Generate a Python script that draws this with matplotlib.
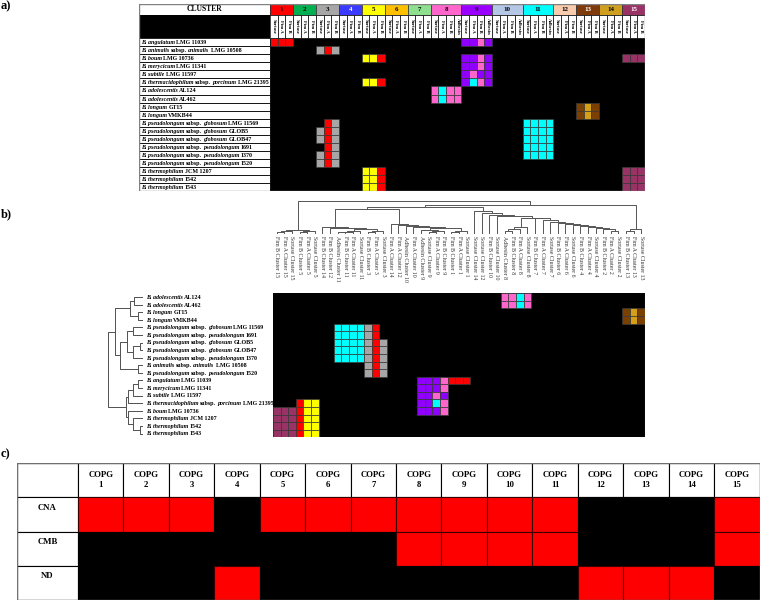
import matplotlib
matplotlib.use("Agg")
import matplotlib.pyplot as plt
from matplotlib.patches import Rectangle
from matplotlib.transforms import blended_transform_factory

plt.rcParams['font.family'] = ['Liberation Serif', 'DejaVu Serif']

W, H = 760, 601

# ---------------- data ----------------
cluster_sizes = [3, 3, 3, 3, 3, 3, 3, 4, 4, 4, 4, 3, 3, 3, 3]
gene_names = ['Sortase', 'Fim A', 'Fim B', 'Adhesin']
cluster_colors = ['#FF0000', '#00B050', '#A6A6A6', '#3B3BFF', '#FFFF00',
                  '#FFC000', '#8EE08E', '#FF66CC', '#9900FF', '#B4C7E7',
                  '#00FFFF', '#F8CBAD', '#7F3A0C', '#CFA020', '#993366']
cluster_text = ['k', 'k', 'k', 'w', 'k', 'k', 'k', 'k', 'k', 'k',
                'k', 'k', 'w', 'k', 'w']

cell_colors = {'R': '#FF0000', 'G': '#A6A6A6', 'Y': '#FFFF00', 'P': '#8F00FF',
               'K': '#FF66CC', 'C': '#00FFFF', 'B': '#7B3F00', 'O': '#D4A017',
               'M': '#993366'}

strains = [
    "*B. angulatum* LMG 11039",
    "*B. animalis* subsp. *animalis* LMG 10508",
    "*B. boum* LMG 10736",
    "*B. merycicum* LMG 11341",
    "*B. subtile* LMG 11597",
    "*B. thermacidophilum* subsp. *porcinum* LMG 21395",
    "*B. adolescentis* AL124",
    "*B. adolescentis* AL462",
    "*B. longum* GT15",
    "*B. longum* VMKB44",
    "*B. pseudolongum* subsp. *globosum* LMG 11569",
    "*B. pseudolongum* subsp. *globosum* GLOB5",
    "*B. pseudolongum* subsp. *globosum* GLOB47",
    "*B. pseudolongum* subsp. *pseudolongum* 1691",
    "*B. pseudolongum* subsp. *pseudolongum* 1370",
    "*B. pseudolongum* subsp. *pseudolongum* 1520",
    "*B. thermophilum* JCM 1207",
    "*B. thermophilum* 1542",
    "*B. thermophilum* 1543",
]

# one string per strain, clusters 1..15 separated by '|'
presence = [
    "RRR|...|...|...|...|...|...|....|PPKP|....|....|...|...|...|...",
    "...|...|GRG|...|...|...|...|....|....|....|....|...|...|...|...",
    "...|...|...|...|YYR|...|...|....|PPKP|....|....|...|...|...|MMM",
    "...|...|...|...|...|...|...|....|PPKP|....|....|...|...|...|...",
    "...|...|...|...|...|...|...|....|PKPP|....|....|...|...|...|...",
    "...|...|...|...|YYR|...|...|....|PCKP|....|....|...|...|...|...",
    "...|...|...|...|...|...|...|KCKK|....|....|....|...|...|...|...",
    "...|...|...|...|...|...|...|KCKK|....|....|....|...|...|...|...",
    "...|...|...|...|...|...|...|....|....|....|....|...|BOB|...|...",
    "...|...|...|...|...|...|...|....|....|....|....|...|BOB|...|...",
    "...|...|.RG|...|...|...|...|....|....|....|CCCC|...|...|...|...",
    "...|...|GRG|...|...|...|...|....|....|....|CCCC|...|...|...|...",
    "...|...|GRG|...|...|...|...|....|....|....|CCCC|...|...|...|...",
    "...|...|.RG|...|...|...|...|....|....|....|CCCC|...|...|...|...",
    "...|...|GRG|...|...|...|...|....|....|....|CCCC|...|...|...|...",
    "...|...|GRG|...|...|...|...|....|....|....|....|...|...|...|...",
    "...|...|...|...|YYR|...|...|....|....|....|....|...|...|...|MMM",
    "...|...|...|...|YYR|...|...|....|....|....|....|...|...|...|MMM",
    "...|...|...|...|YYR|...|...|....|....|....|....|...|...|...|MMM",
]

# panel b: clustered order of strains (index into strains) and of genes
b_row_order = [6, 7, 8, 9, 10, 13, 11, 12, 14, 1, 15, 0, 3, 4, 5, 2, 16, 17, 18]
b_col_labels = [
    "Fim B Cluster 15", "Fim A Cluster 15", "Sortase Cluster 15",
    "Fim B Cluster 5", "Fim A Cluster 5", "Sortase Cluster 5",
    "Fim B Cluster 14", "Fim B Cluster 12", "Adhesin Cluster 11",
    "Fim B Cluster 11", "Fim A Cluster 11", "Sortase Cluster 11",
    "Fim B Cluster 3", "Fim A Cluster 3", "Sortase Cluster 3",
    "Fim A Cluster 14", "Fim A Cluster 12", "Adhesin Cluster 10",
    "Fim A Cluster 10", "Adhesin Cluster 9", "Sortase Cluster 9",
    "Fim A Cluster 9", "Fim B Cluster 9", "Fim B Cluster 1",
    "Fim A Cluster 1", "Sortase Cluster 1", "Sortase Cluster 14",
    "Sortase Cluster 12", "Fim B Cluster 10", "Sortase Cluster 10",
    "Adhesin Cluster 8", "Fim B Cluster 8", "Fim A Cluster 8",
    "Sortase Cluster 8", "Fim B Cluster 7", "Fim A Cluster 7",
    "Sortase Cluster 7", "Fim B Cluster 6", "Fim A Cluster 6",
    "Sortase Cluster 6", "Fim B Cluster 4", "Fim A Cluster 4",
    "Sortase Cluster 4", "Fim B Cluster 2", "Fim A Cluster 2",
    "Sortase Cluster 2", "Fim B Cluster 13", "Fim A Cluster 13",
    "Sortase Cluster 13",
]

# row dendrogram (leaves = rows of panel b), (left, right, height)
row_tree = ((((0, 1, 9), (2, 3, 5), 13),
             (((4, 5, 10), ((6, 7, 3), 8, 10), 16), (9, 10, 5), 23), 28),
            ((((11, 12, 5), 13, 10), 14, 15),
             (15, (16, (17, 18, 3), 10), 15), 17), 35)

# column dendrogram pieces (leaves = columns of panel b)
grp_a = (((0, 1, 1.5), 2, 2.5), ((3, 4, 1.5), 5, 2.5), 3.5)
grp_11 = (((8, 9, 1), 10, 1.8), 11, 2.6)
grp_3 = ((12, 13, 1.5), 14, 2.5)
grp_9 = (19, ((20, 21, 1.5), 22, 2.5), 3.5)
grp_1 = ((23, 24, 1.5), 25, 2.5)
grp_8 = (((30, 31, 2), 32, 4), 33, 6)
grp_13 = ((46, 47, 2), 48, 4)
ladder_first = (44, 45, 2.5)
ladder_steps = [(43, 4), (42, 5), (41, 6), (40, 7), (39, 8), (38, 9), (37, 10),
                (36, 11.5), (35, 13), (34, 15), (grp_8, 15.5), (29, 17),
                (28, 18), (27, 20), (26, 22)]

copg_labels = [f"COPG\n{i}" for i in range(1, 16)]
copg_rows = ['CNA', 'CMB', 'ND']
copg_cna = [1, 1, 1, 0, 1, 1, 1, 1, 1, 1, 1, 0, 0, 0, 1]
copg_cmb = [0, 0, 0, 0, 0, 0, 0, 1, 1, 1, 1, 0, 0, 0, 1]
copg_nd = [0, 0, 0, 1, 0, 0, 0, 0, 0, 0, 0, 1, 1, 1, 0]

# ---------------- helpers ----------------
fig = plt.figure(figsize=(W / 100, H / 100), dpi=100)


def px_axes(x0, y0, x1, y1):
    ax = fig.add_axes([x0 / W, 1 - y1 / H, (x1 - x0) / W, (y1 - y0) / H])
    ax.axis('off')
    return ax


def rich_text(ax, x, y, s, fs, transform=None):
    parts = s.split('*')
    t = None
    for k, p in enumerate(parts):
        p = p.strip()
        if not p:
            continue
        style = 'italic' if k % 2 == 1 else 'normal'
        if t is None:
            t = ax.text(x, y, p, fontsize=fs, fontstyle=style, fontweight='bold',
                        va='center', ha='left', clip_on=False,
                        transform=transform if transform else ax.transData)
        else:
            t = ax.annotate(p, xy=(1, 0), xycoords=t, xytext=(1.0, 0),
                            textcoords='offset points', fontsize=fs,
                            fontstyle=style, fontweight='bold',
                            va='bottom', ha='left', annotation_clip=False)


def draw_cells(ax, rows):
    for i, row in enumerate(rows):
        for j, c in enumerate(row):
            if c != '.':
                ax.add_patch(Rectangle((j, i), 1, 1, facecolor=cell_colors[c],
                                       edgecolor='#3a3a3a', lw=0.5))


def tree_lines(node, segs):
    if not isinstance(node, tuple):
        return node + 0.5, 0.0
    a, b, h = node
    xa, ha = tree_lines(a, segs)
    xb, hb = tree_lines(b, segs)
    segs.append(([xa, xa, xb, xb], [ha, h, h, hb]))
    return (xa + xb) / 2, h


# column index of each (gene, cluster) in panel a
col_index = {}
start = 0
for ci, n in enumerate(cluster_sizes):
    for g in range(n):
        col_index[(gene_names[g], ci + 1)] = start + g
    start += n
n_cols = start
rows_a = [r.replace('|', '') for r in presence]

# ---------------- panel a ----------------
ax_a = px_axes(139, 4, 645, 191.5)
name_w = 131 / (375 / n_cols)
h1, h2 = 1.36, 2.85
ax_a.set_xlim(-name_w, n_cols)
ax_a.set_ylim(len(strains), -(h1 + h2))

ax_a.add_patch(Rectangle((0, 0), n_cols, len(strains), facecolor='black', lw=0))
draw_cells(ax_a, rows_a)

ax_a.add_patch(Rectangle((-name_w, -(h1 + h2)), name_w, h1, facecolor='white',
                         edgecolor='black', lw=0.6))
ax_a.text(-name_w / 2, -(h2 + h1 / 2), 'CLUSTER', ha='center', va='center',
          fontsize=5.5, fontweight='bold')
ax_a.add_patch(Rectangle((-name_w, -h2), name_w, h2, facecolor='black', lw=0))
for i, s in enumerate(strains):
    ax_a.add_patch(Rectangle((-name_w, i), name_w, 1, facecolor='white',
                             edgecolor='black', lw=0.6))
    rich_text(ax_a, -name_w + 0.25, i + 0.55, s, 4.3)

start = 0
for ci, n in enumerate(cluster_sizes):
    ax_a.add_patch(Rectangle((start, -(h1 + h2)), n, h1, facecolor=cluster_colors[ci],
                             edgecolor='#303030', lw=0.5))
    ax_a.text(start + n / 2, -(h2 + h1 / 2), str(ci + 1), ha='center', va='center',
              fontsize=5, fontweight='bold', color=cluster_text[ci])
    for g in range(n):
        ax_a.add_patch(Rectangle((start + g, -h2), 1, h2, facecolor='white',
                                 edgecolor='black', lw=0.5))
        ax_a.text(start + g + 0.5, -h2 / 2, gene_names[g], rotation=270,
                  ha='center', va='center', fontsize=3.4, fontweight='bold')
    start += n
ax_a.add_patch(Rectangle((-name_w, -(h1 + h2)), name_w + n_cols, len(strains) + h1 + h2,
                         facecolor='none', edgecolor='#808080', lw=1.0))

# ---------------- panel b ----------------
# left dendrogram + labels
ax_bl = px_axes(107, 293.3, 143, 437.3)
ax_bl.set_ylim(len(b_row_order), 0)
ax_bl.set_xlim(36, 0)
segs = []
tree_lines(row_tree, segs)
for xs, ys in segs:
    ax_bl.plot(ys, xs, color='#505050', lw=0.7, solid_capstyle='butt')
tr = blended_transform_factory(ax_bl.transAxes, ax_bl.transData)
for i, r in enumerate(b_row_order):
    rich_text(ax_bl, 1.08, i + 0.55, strains[r], 4.3, transform=tr)

# top dendrogram
ax_bt = px_axes(273, 200, 645, 233.5)
ax_bt.set_xlim(0, n_cols)
ax_bt.set_ylim(0, 32.5)
b1 = (6, (7, (grp_11, grp_3, 4.5), 5.5), 6.5)
b2 = (15, (16, (17, (18, (grp_9, grp_1, 5), 6), 7), 8), 9)
ladder = ladder_first
for leaf, h in ladder_steps:
    ladder = (leaf, ladder, h)
col_tree = (grp_a, (((b1, b2, 24), ladder, 25.5), grp_13, 27.5), 32)
segs = []
tree_lines(col_tree, segs)
for xs, ys in segs:
    ax_bt.plot(xs, ys, color='#555555', lw=0.7, solid_capstyle='butt')

# heatmap
ax_b = px_axes(273, 293.3, 645, 437.3)
ax_b.set_xlim(0, n_cols)
ax_b.set_ylim(len(b_row_order), 0)
rows_b = []
for r in b_row_order:
    rows_b.append(''.join(rows_a[r][col_index[(lab.split(' Cluster ')[0], int(lab.split(' Cluster ')[1]))]]
                          for lab in b_col_labels))
ax_b.add_patch(Rectangle((0, 0), n_cols, len(b_row_order), facecolor='black', lw=0))
draw_cells(ax_b, rows_b)
tr = blended_transform_factory(ax_b.transData, ax_b.transAxes)
for j, lab in enumerate(b_col_labels):
    ax_b.text(j + 0.5, 1.395, lab, rotation=270, ha='center', va='top',
              fontsize=4.2, color='#333333', transform=tr, clip_on=False)
ax_b.plot([n_cols, n_cols], [0, len(b_row_order)], color='#909090', lw=0.8)

# ---------------- panel c ----------------
ax_c = px_axes(17, 463, 759.5, 600)
lab_w = 61 / 45.47
ax_c.set_xlim(-lab_w, 15)
ax_c.set_ylim(4, 0)
ax_c.add_patch(Rectangle((-lab_w, 0), lab_w, 1, facecolor='white', edgecolor='black', lw=0.8))
for j, lab in enumerate(copg_labels):
    ax_c.add_patch(Rectangle((j, 0), 1, 1, facecolor='white', edgecolor='black', lw=0.8))
    ax_c.text(j + 0.5, 0.5, lab, ha='center', va='center', fontsize=6.3,
              fontweight='bold', linespacing=1.4)
for r, (name, vals) in enumerate(zip(copg_rows, [copg_cna, copg_cmb, copg_nd])):
    ax_c.add_patch(Rectangle((-lab_w, r + 1), lab_w, 1, facecolor='white',
                             edgecolor='black', lw=0.8))
    ax_c.text(-lab_w / 2, r + 1.3, name, ha='center', va='center', fontsize=6.3,
              fontweight='bold')
    for j, v in enumerate(vals):
        ax_c.add_patch(Rectangle((j, r + 1), 1, 1, facecolor='#FF0000' if v else 'black',
                                 edgecolor='#3a0000' if v else 'black', lw=0.8))
ax_c.add_patch(Rectangle((-lab_w, 0), lab_w + 15, 4, facecolor='none',
                         edgecolor='#707070', lw=1.0))

# panel letters
fig.text(1 / W, 1 - 6 / H, 'a)', fontsize=9, fontweight='bold', va='center', ha='left')
fig.text(1 / W, 1 - 214 / H, 'b)', fontsize=9, fontweight='bold', va='center', ha='left')
fig.text(1 / W, 1 - 454 / H, 'c)', fontsize=9, fontweight='bold', va='center', ha='left')

plt.savefig("out.png", dpi=100)
